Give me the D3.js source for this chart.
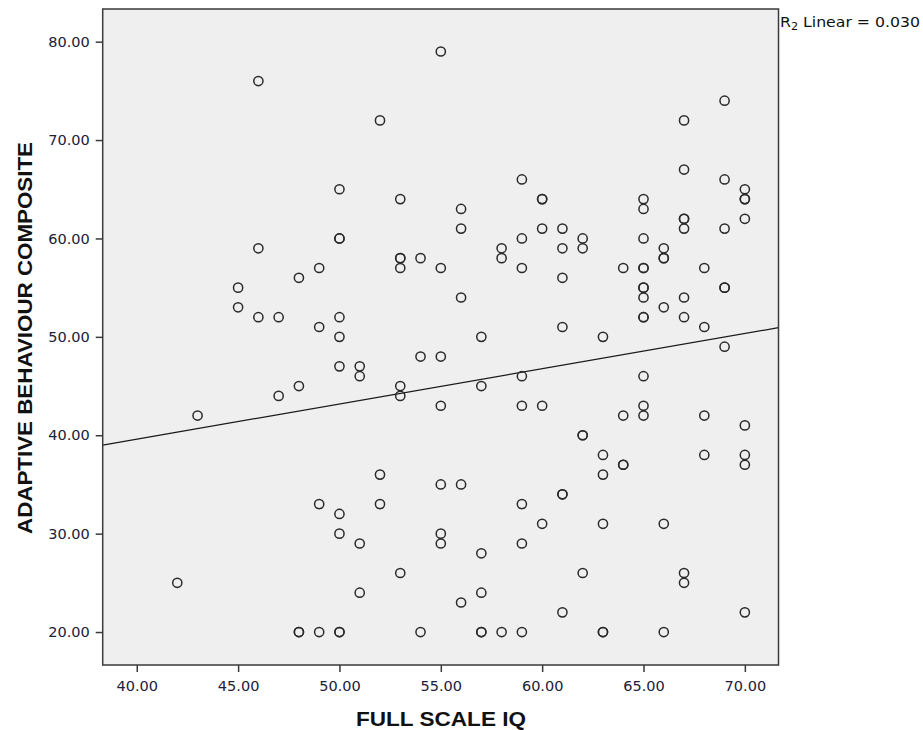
<!DOCTYPE html>
<html>
<head>
<meta charset="utf-8">
<script src="https://cdn.jsdelivr.net/npm/d3@7"></script>
<style>
  html, body { margin: 0; padding: 0; background: #ffffff; }
  svg { display: block; }
</style>
</head>
<body>
<svg id="chart" width="923" height="730"></svg>
<script>
// Data (FULL SCALE IQ vs ADAPTIVE BEHAVIOUR COMPOSITE)
const iqValues = [
  42, 43, 45, 45, 46, 46, 46, 47, 47,
  48, 48, 48, 48, 49, 49, 49, 49,
  50, 50, 50, 50, 50, 50, 50, 50, 50, 50,
  51, 51, 51, 51, 52, 52, 52,
  53, 53, 53, 53, 53, 53, 53, 54, 54, 54,
  55, 55, 55, 55, 55, 55, 55,
  56, 56, 56, 56, 56,
  57, 57, 57, 57, 57, 57,
  58, 58, 58,
  59, 59, 59, 59, 59, 59, 59, 59,
  60, 60, 60, 60, 60,
  61, 61, 61, 61, 61, 61, 61,
  62, 62, 62, 62, 62,
  63, 63, 63, 63, 63, 63,
  64, 64, 64, 64,
  65, 65, 65, 65, 65, 65, 65, 65, 65, 65, 65, 65, 65,
  66, 66, 66, 66, 66, 66,
  67, 67, 67, 67, 67, 67, 67, 67, 67,
  68, 68, 68, 68,
  69, 69, 69, 69, 69, 69,
  70, 70, 70, 70, 70, 70, 70, 70
];
const abcValues = [
  25, 42, 55, 53, 76, 59, 52, 52, 44,
  56, 45, 20, 20, 57, 51, 33, 20,
  65, 60, 60, 52, 50, 47, 32, 30, 20, 20,
  47, 46, 29, 24, 72, 36, 33,
  64, 58, 58, 57, 45, 44, 26, 58, 48, 20,
  79, 57, 48, 43, 35, 30, 29,
  63, 61, 54, 35, 23,
  50, 45, 28, 24, 20, 20,
  59, 58, 20,
  66, 60, 57, 46, 43, 33, 29, 20,
  64, 64, 61, 43, 31,
  61, 59, 56, 51, 34, 34, 22,
  60, 59, 40, 40, 26,
  50, 38, 36, 31, 20, 20,
  57, 42, 37, 37,
  64, 63, 60, 57, 57, 55, 55, 54, 52, 52, 46, 43, 42,
  59, 58, 58, 53, 31, 20,
  72, 67, 62, 62, 61, 54, 52, 26, 25,
  57, 51, 42, 38,
  74, 66, 61, 55, 55, 49,
  65, 64, 64, 62, 41, 38, 37, 22
];
const xTickValues = [40, 45, 50, 55, 60, 65, 70];
const yTickValues = [20, 30, 40, 50, 60, 70, 80];
const fitIntercept = 25.28;   // linear fit line
const fitSlope = 0.358;
const xTitle = "FULL SCALE IQ";
const yTitle = "ADAPTIVE BEHAVIOUR COMPOSITE";
const rSquaredText = "0.030";

const points = iqValues.map((v, i) => ({ x: v, y: abcValues[i] }));

const svg = d3.select("#chart");
const pLeft = 102.7, pRight = 778.5, pTop = 9, pBottom = 665;

const x = d3.scaleLinear().domain([38.32, 71.66]).range([pLeft, pRight]);
const y = d3.scaleLinear().domain([16.65, 83.32]).range([pBottom, pTop]);

// plot background
svg.append("rect")
  .attr("x", pLeft).attr("y", pTop)
  .attr("width", pRight - pLeft).attr("height", pBottom - pTop)
  .attr("fill", "#efefef");

svg.append("clipPath").attr("id", "plotclip")
  .append("rect").attr("x", pLeft).attr("y", pTop)
  .attr("width", pRight - pLeft).attr("height", pBottom - pTop);

// fit line
const xd = x.domain();
svg.append("g").attr("clip-path", "url(#plotclip)")
  .append("line")
  .attr("x1", x(xd[0])).attr("y1", y(fitIntercept + fitSlope * xd[0]))
  .attr("x2", x(xd[1])).attr("y2", y(fitIntercept + fitSlope * xd[1]))
  .attr("stroke", "#1a1a1a").attr("stroke-width", 1.2);

// points
svg.append("g").selectAll("circle").data(points).join("circle")
  .attr("cx", d => x(d.x)).attr("cy", d => y(d.y))
  .attr("r", 4.6)
  .attr("fill", "none")
  .attr("stroke", "#2a2a2a")
  .attr("stroke-width", 1.5);

// frame
svg.append("rect")
  .attr("x", pLeft).attr("y", pTop)
  .attr("width", pRight - pLeft).attr("height", pBottom - pTop)
  .attr("fill", "none").attr("stroke", "#3a3a3a").attr("stroke-width", 1.5);

const fmt = d3.format(".2f");
const labelColor = "#20203a";

const xAxis = svg.append("g").attr("transform", `translate(0,${pBottom})`)
  .call(d3.axisBottom(x).tickValues(xTickValues).tickFormat(fmt).tickSize(7).tickPadding(9));
const yAxis = svg.append("g").attr("transform", `translate(${pLeft},0)`)
  .call(d3.axisLeft(y).tickValues(yTickValues).tickFormat(fmt).tickSize(7).tickPadding(6));

[xAxis, yAxis].forEach(g => {
  g.select(".domain").remove();
  g.selectAll(".tick line").attr("stroke", "#3a3a3a").attr("stroke-width", 1.5);
  g.selectAll(".tick text")
    .attr("fill", labelColor)
    .style("font-family", "'DejaVu Sans', Verdana, sans-serif")
    .style("font-size", "14.5px");
});

// axis titles
svg.append("text")
  .attr("x", 441).attr("y", 726)
  .attr("text-anchor", "middle")
  .attr("textLength", 170).attr("lengthAdjust", "spacingAndGlyphs")
  .style("font-family", "'Liberation Sans', Arial, sans-serif")
  .style("font-weight", "bold").style("font-size", "21px")
  .attr("fill", "#111")
  .text(xTitle);

svg.append("text")
  .attr("transform", "translate(32,338) rotate(-90)")
  .attr("text-anchor", "middle")
  .attr("textLength", 392).attr("lengthAdjust", "spacingAndGlyphs")
  .style("font-family", "'Liberation Sans', Arial, sans-serif")
  .style("font-weight", "bold").style("font-size", "21px")
  .attr("fill", "#111")
  .text(yTitle);

// R squared label
const rt = svg.append("text")
  .attr("x", 780).attr("y", 27)
  .attr("textLength", 140).attr("lengthAdjust", "spacingAndGlyphs")
  .style("font-family", "'DejaVu Sans', Verdana, sans-serif")
  .style("font-size", "14px")
  .attr("fill", "#111");
rt.append("tspan").text("R");
rt.append("tspan").attr("dy", 3).style("font-size", "10px").text("2");
rt.append("tspan").attr("dy", -3).text(" Linear = " + rSquaredText);
</script>
</body>
</html>
